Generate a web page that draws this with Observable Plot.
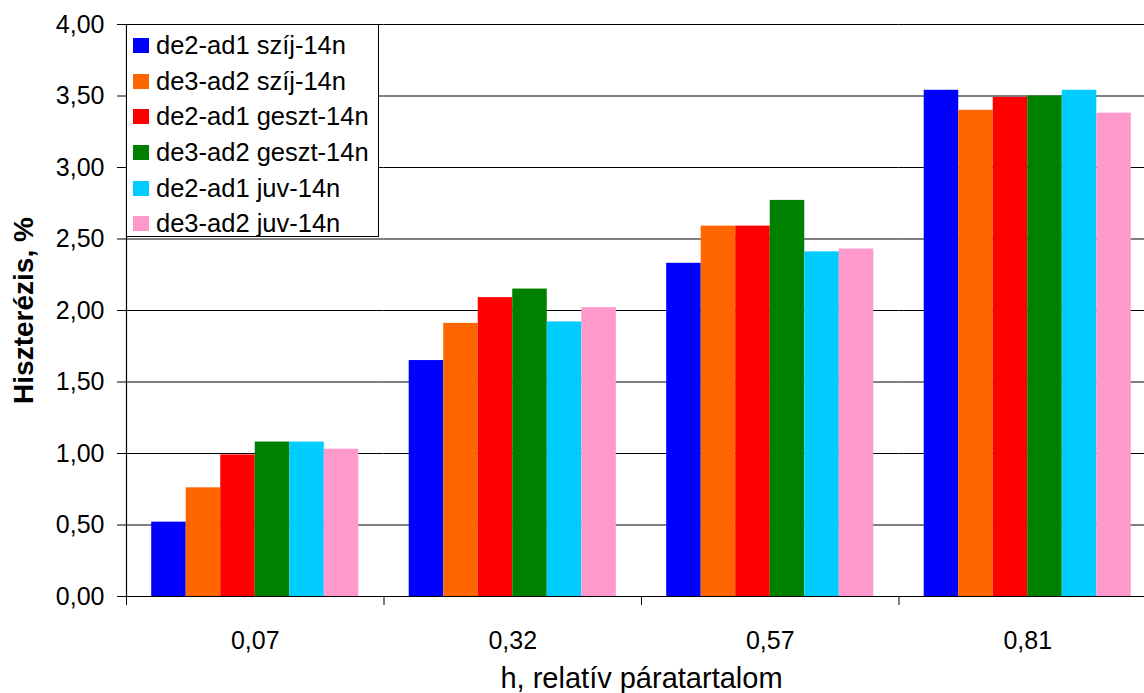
<!DOCTYPE html>
<html>
<head>
<meta charset="utf-8">
<script src="https://cdn.jsdelivr.net/npm/d3@7"></script>
<script src="https://cdn.jsdelivr.net/npm/@observablehq/plot@0.6"></script>
<style>
  html, body { margin: 0; padding: 0; background: #fff; overflow: hidden; }
  #wrap { position: relative; width: 1144px; height: 693px; overflow: hidden; }
  #wrap svg { max-width: none !important; display: block; }
  #legend {
    position: absolute; left: 126px; top: 24px; width: 253px; height: 213px;
    border: 1px solid #000; background: #fff; box-sizing: border-box;
    font-family: "Liberation Sans", Arial, sans-serif; font-size: 25.5px; color: #000;
    padding-top: 3px;
  }
  .row { display: flex; align-items: center; height: 35.6px; white-space: nowrap; }
  .sw { width: 16px; height: 15px; margin-left: 6px; margin-right: 7px; flex: none; }
</style>
</head>
<body>
<div id="wrap"><div id="legend"></div></div>
<script>
const categories = ["0,07", "0,32", "0,57", "0,81"];
const series = [
  "de2-ad1 szíj-14n",
  "de3-ad2 szíj-14n",
  "de2-ad1 geszt-14n",
  "de3-ad2 geszt-14n",
  "de2-ad1 juv-14n",
  "de3-ad2 juv-14n"
];
const colors = ["#0000FF", "#FF6600", "#FF0000", "#008000", "#00CCFF", "#FF99CC"];
const szij2 = [0.52, 1.65, 2.33, 3.54];
const szij3 = [0.76, 1.91, 2.59, 3.40];
const geszt2 = [0.99, 2.09, 2.59, 3.49];
const geszt3 = [1.08, 2.15, 2.77, 3.50];
const juv2 = [1.08, 1.92, 2.41, 3.54];
const juv3 = [1.03, 2.02, 2.43, 3.38];
const yTicks = [0, 0.5, 1, 1.5, 2, 2.5, 3, 3.5, 4];
const yLabel = "Hiszterézis, %";
const xLabel = "h, relatív páratartalom";

const values = [szij2, szij3, geszt2, geszt3, juv2, juv3];
const data = [];
categories.forEach((c, i) => {
  series.forEach((s, j) => data.push({cat: c, series: s, value: values[j][i]}));
});

const font = "'Liberation Sans', Arial, sans-serif";
const fmt = d => d.toFixed(2).replace(".", ",");

const chart = Plot.plot({
  width: 1160,
  height: 693,
  marginLeft: 126,
  marginTop: 24,
  marginRight: 4,
  marginBottom: 97,
  style: {fontFamily: font, fontSize: "25px", color: "#000", background: "#fff"},
  fx: {domain: categories, padding: 0, round: false},
  x: {domain: series, paddingInner: 0, paddingOuter: 0.73, round: false, axis: null},
  y: {domain: [0, 4]},
  color: {domain: series, range: colors},
  marks: [
    Plot.gridY(yTicks, {stroke: "#000", strokeOpacity: 1, strokeWidth: 1}),
    Plot.barY(data, {fx: "cat", x: "series", y: "value", fill: "series"}),
    Plot.ruleY([0], {stroke: "#000", strokeWidth: 1.2}),
    Plot.frame({anchor: "left", facet: "super", stroke: "#000", strokeWidth: 1.2}),
    Plot.frame({anchor: "left", insetTop: 572, insetBottom: -8, stroke: "#000"}),
    Plot.axisY(yTicks, {tickSize: 9, tickPadding: 13, tickFormat: fmt, fontSize: 25, label: null, stroke: "#000"}),
    Plot.axisFx({anchor: "bottom", tickSize: 0, tickPadding: 35, fontSize: 25, label: null}),
    Plot.text([yLabel], {text: d => d, facet: "super", frameAnchor: "left", textAnchor: "middle", lineAnchor: "middle", rotate: -90, dx: -102, fontWeight: "bold", fontSize: 28}),
    Plot.text([xLabel], {text: d => d, facet: "super", frameAnchor: "bottom", textAnchor: "middle", lineAnchor: "middle", dy: 82, fontSize: 29})
  ]
});
const wrap = document.getElementById("wrap");
wrap.insertBefore(chart, wrap.firstChild);

const legend = document.getElementById("legend");
series.forEach((s, i) => {
  const row = document.createElement("div");
  row.className = "row";
  const sw = document.createElement("span");
  sw.className = "sw";
  sw.style.background = colors[i];
  const t = document.createElement("span");
  t.textContent = s;
  row.appendChild(sw);
  row.appendChild(t);
  legend.appendChild(row);
});
</script>
</body>
</html>
